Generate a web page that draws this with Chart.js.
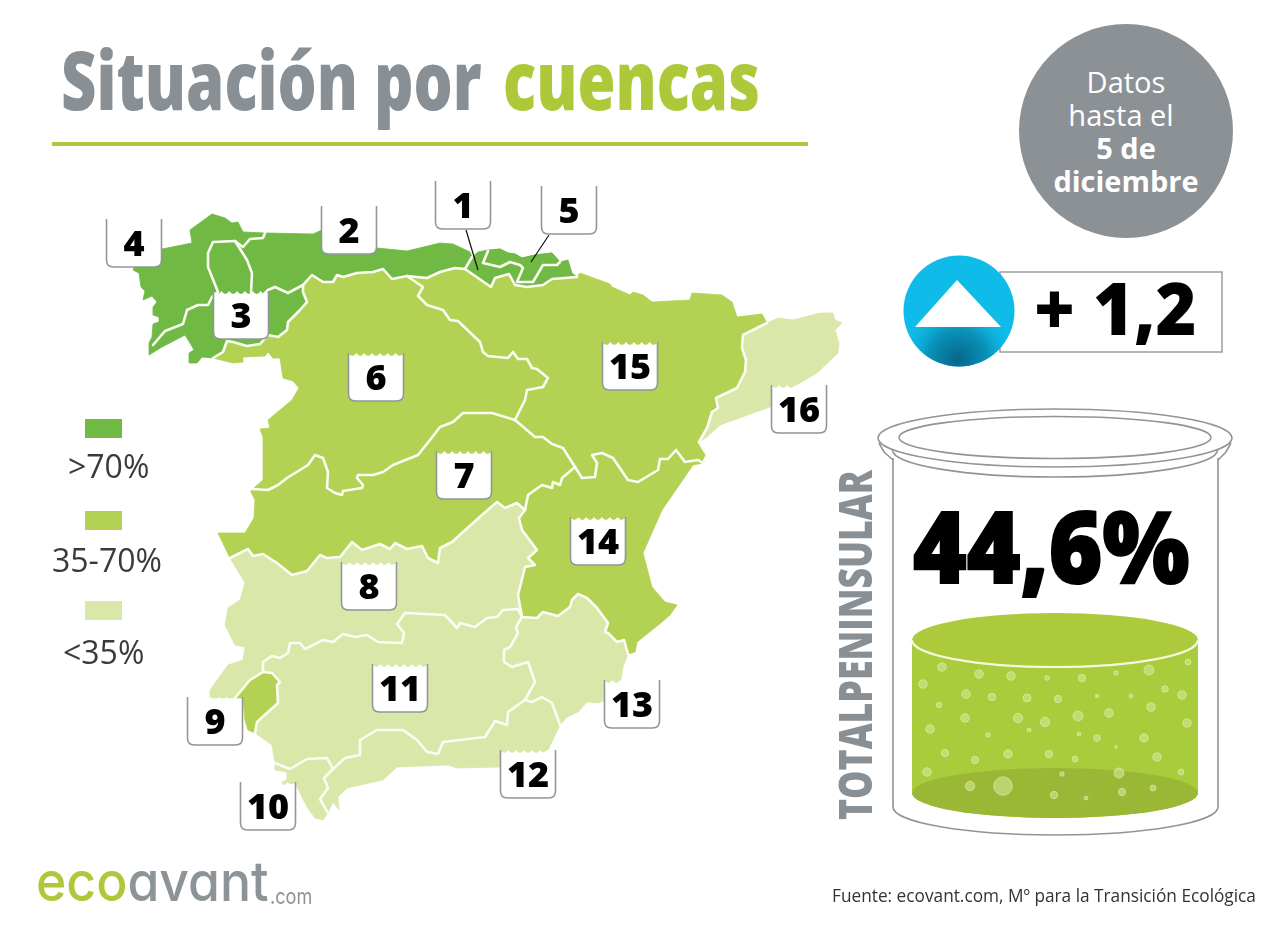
<!DOCTYPE html>
<html lang="es">
<head>
<meta charset="utf-8">
<title>Situación por cuencas</title>
<style>
  html,body{margin:0;padding:0;background:#fff;}
  #page{position:relative;width:1280px;height:933px;overflow:hidden;font-family:"Open Sans",sans-serif;}
  #map{position:absolute;left:0;top:0;width:1280px;height:933px;}
  #page .t{position:absolute;white-space:nowrap;line-height:1;transform-origin:0 0;}
  #title{left:61px;top:38px;font-size:81px;font-weight:800;color:#899095;}
  #title b{color:#adc93a;font-weight:800;margin-left:7px;}
  .green{color:#adc93a;}
  #rule{position:absolute;left:52px;top:142px;width:756px;height:4px;background:#adc93a;}
  #date{position:absolute;left:1019px;top:24px;width:214px;height:214px;border-radius:50%;background:#8c9195;color:#fff;text-align:center;font-size:29px;line-height:33px;}
  #date div{padding-top:41px;}
  #date i{font-style:normal;position:relative;left:-5px;}
  .lg{position:absolute;left:85px;width:37px;height:19px;}
  .lgt{font-size:32px;color:#3a3a3a;}
  #delta{left:1034px;top:271px;font-size:72px;font-weight:800;color:#000;}
  #pct{left:913px;top:494px;font-size:100px;font-weight:800;color:#000;-webkit-text-stroke:2px #000;}
  #total{left:831px;top:820px;font-size:46px;font-weight:800;color:#899095;}
  #src{left:832px;top:886px;font-size:19px;color:#333;}
  #logo{left:36px;top:854px;font-family:Inter,sans-serif;font-feature-settings:"cv11";font-size:55px;font-weight:500;color:#8d9498;}
  #com{left:270px;top:885px;font-family:Inter,sans-serif;font-size:22px;color:#8d9498;}
</style>
</head>
<body>
<div id="page">
  <canvas id="map" width="1280" height="933"></canvas>
  <span class="t" id="title">Situación por <b>cuencas</b></span>
  <div id="rule"></div>
  <div id="date"><div>Datos<br><i>hasta el</i><br><b>5 de<br>diciembre</b></div></div>
  <div class="lg" style="top:419px;background:#6fb944"></div>
  <div class="lg" style="top:511px;background:#b3d152"></div>
  <div class="lg" style="top:601px;background:#d9e7a9"></div>
  <span class="t lgt" style="left:68px;top:450px">&gt;70%</span>
  <span class="t lgt" style="left:52px;top:544px">35-70%</span>
  <span class="t lgt" style="left:63px;top:636px">&lt;35%</span>
  <span class="t" id="delta">+ 1,2</span>
  <span class="t" id="pct">44,6%</span>
  <span class="t" id="total">TOTALPENINSULAR</span>
  <span class="t" id="src">Fuente: ecovant.com, Mº para la Transición Ecológica</span>
  <span class="t" id="logo"><span class="green">eco</span>avant</span>
  <span class="t" id="com">.com</span>
</div>
<script src="https://cdn.jsdelivr.net/npm/chart.js@4/dist/chart.umd.min.js"></script>
<script>
// shared basin borders
const galiciaMino = [[153,345],[165,331],[183,324],[187,310],[198,305],[208,305],[212,297],[218,292],[208,267],[208,253],[213,242],[235,241]];
const galiciaCant = [[235,241],[243,247],[250,239],[263,238],[265,233]];
const minoCant = [[235,241],[247,260],[252,273],[251,293],[258,300],[268,290],[275,287],[288,293],[303,285]];
const minoDuero = [[213,358],[223,352],[227,341],[233,342],[247,346],[260,344],[268,335],[278,337],[287,330],[288,322],[300,310],[307,302],[303,292],[303,285]];
const cantDuero = [[303,285],[312,275],[323,282],[333,282],[337,275],[343,277],[357,273],[373,272],[383,269],[392,279],[407,276]];
const cantEbro = [[407,276],[427,278],[440,272],[455,268],[465,269]];
const cantVasco = [[465,269],[472,257]];
const vascoEbro = [[465,269],[491,287],[495,278],[509,274],[515,285],[527,287],[543,285],[552,279],[577,277]];
const vascoInner = [[488,251],[483,263],[500,267],[510,262],[520,265],[523,268],[517,282],[533,282],[543,265],[557,265],[560,262]];
const dueroEbro = [[407,276],[423,287],[418,296],[427,305],[443,310],[450,320],[458,321],[480,342],[483,352],[488,356],[508,358],[513,352],[518,359],[527,359],[532,368],[537,369],[548,378],[543,387],[527,390],[525,400],[515,420]];
const dueroTajo = [[515,420],[492,413],[477,413],[463,413],[453,422],[440,427],[430,440],[418,455],[393,465],[383,472],[373,475],[358,475],[357,478],[363,485],[362,488],[343,491],[342,495],[335,493],[327,488],[328,472],[323,458],[315,455],[308,465],[287,478],[278,485],[268,490],[252,489]];
const ebroTajo = [[515,420],[535,437],[543,437],[552,444],[563,448],[575,467]];
const ebroCat = [[767,323],[743,335],[742,348],[746,360],[745,372],[737,388],[716,398],[718,408],[712,412],[707,428],[699,442],[707,455],[703,463]];
const ebroJucar = [[575,467],[582,478],[595,477],[597,463],[592,455],[602,453],[613,458],[628,480],[638,482],[658,470],[660,459],[668,459],[676,450],[685,462],[698,460],[703,463]];
const tajoJucar = [[575,467],[562,478],[560,485],[553,482],[552,488],[542,485],[528,495],[525,510]];
const tajoGuadiana = [[230,558],[248,549],[253,556],[263,554],[277,563],[292,575],[307,571],[320,555],[327,558],[340,557],[352,542],[362,550],[380,544],[390,549],[395,543],[407,549],[422,546],[428,558],[438,563],[440,548],[452,542],[463,532],[482,515],[490,508],[497,502],[505,508],[517,503],[525,510]];
const guadianaJucar = [[525,510],[519,518],[522,530],[537,550],[528,558],[535,565],[525,567],[518,595],[522,617]];
const guadalqGuadiana = [[263,672],[263,662],[272,656],[280,658],[288,653],[290,643],[300,643],[305,649],[323,640],[333,642],[343,634],[355,637],[367,635],[378,642],[402,643],[404,633],[397,624],[405,613],[445,615],[457,628],[460,623],[475,627],[487,618],[497,617],[503,610],[518,609],[522,617]];
const jucarSegura = [[522,617],[537,618],[543,612],[558,616],[570,607],[572,600],[578,594],[587,598],[597,608],[608,623],[605,632],[608,633],[617,642],[624,640],[628,654]];
const seguraGuadalq = [[522,617],[516,627],[518,633],[510,647],[504,650],[504,662],[512,667],[528,662],[535,682],[525,700]];
const seguraSur = [[525,700],[532,702],[542,697],[552,703],[560,725]];
const guadalqSur = [[525,700],[508,712],[507,725],[495,721],[485,737],[443,742],[438,754],[427,752],[417,740],[403,730],[377,730],[360,740],[360,755],[345,758],[333,769]];
const guadalqGuadalete = [[333,769],[327,758],[307,759],[290,769],[275,763]];
const surGuadalete = [[333,769],[324,778],[328,788],[320,799],[328,813]];
const tintoGuadiana = [[235,698],[250,680],[263,672]];
const tintoGuadalq = [[263,672],[272,673],[280,682],[277,685],[278,703],[257,722],[255,733]];
const rev = a => [...a].reverse();

// coast stretches
const coastGalicia = [[149,343],[152,337],[153,324],[159,322],[159,317],[153,315],[153,307],[157,302],[152,296],[143,300],[145,291],[141,287],[139,273],[133,270],[140,255],[162,249],[192,243],[190,230],[212,214],[225,218],[232,223],[238,222],[243,232],[265,233]];
const coastMino = [[202,357],[197,363],[189,363],[189,353],[194,350],[190,343],[185,335],[162,347],[149,355],[149,343]];
const coastCant = [[313,234],[322,230],[350,240],[377,248],[407,251],[440,243],[453,244],[470,252],[472,257]];
const coastVasco = [[478,252],[488,250],[500,249],[508,253],[515,254],[522,258],[535,255],[552,253],[560,262],[568,260],[572,273],[577,277]];
const coastEbro = [[577,277],[580,273],[610,284],[612,287],[630,295],[633,292],[643,295],[652,302],[690,300],[692,293],[722,295],[732,302],[737,317],[762,314],[767,323]];
const coastCat = [[778,318],[793,320],[820,313],[833,313],[835,320],[842,323],[835,330],[839,343],[838,353],[817,373],[793,387],[770,407],[720,425],[707,437],[699,442]];
const coastJucar = [[635,652],[637,642],[662,622],[670,615],[677,605],[665,602],[652,587],[643,553],[662,510],[693,465],[703,463]];
const coastSegura = [[567,717],[578,712],[587,702],[598,703],[605,700],[621,680],[623,667],[628,654]];
const coastSur = [[548,750],[500,767],[457,768],[448,765],[397,767],[383,780],[347,788],[338,797],[339,810],[333,802],[328,813]];
const coastGuadalete = [[323,820],[315,818],[307,807],[295,783],[283,785],[282,782],[287,780],[287,772],[275,770],[275,763]];
const coastDuero = [[251,492],[255,487],[263,480],[263,437],[260,429],[270,428],[268,420],[292,400],[299,388],[293,381],[283,378],[280,358],[273,358],[268,352],[265,356],[243,357],[243,362],[233,363],[213,358]];
const coastTajo = [[218,533],[245,533],[254,518],[255,500],[251,492]];
const coastGuadiana = [[210,698],[210,690],[228,665],[243,660],[245,647],[235,645],[225,625],[228,608],[240,600],[245,583]];
const coastTinto = [[248,730],[245,720],[243,698]];

// basin outlines
const basin1 = [...cantVasco,...coastVasco,...rev(vascoEbro)];
const basin2 = [...galiciaCant,...coastCant,...rev(cantVasco.slice(0,1)),...rev(cantEbro),...rev(cantDuero),...rev(minoCant)];
const basin3 = [...galiciaMino,...minoCant,...rev(minoDuero),...coastMino];
const basin4 = [...coastGalicia,...rev(galiciaCant),...rev(galiciaMino)];
const basin5 = [[488,251],[500,249],[508,253],[515,254],[522,258],[535,255],[552,253],[560,262],...rev(vascoInner)];
const basin6 = [...minoDuero,...cantDuero,...dueroEbro,...dueroTajo,...coastDuero];
const basin7 = [...rev(dueroTajo),...ebroTajo,...tajoJucar,...rev(tajoGuadiana),...coastTajo];
const basin8 = [...tajoGuadiana,...guadianaJucar,...rev(guadalqGuadiana),...rev(tintoGuadiana),...coastGuadiana];
const basin9 = [...tintoGuadiana,...tintoGuadalq,...coastTinto];
const basin10 = [...rev(guadalqGuadalete),...surGuadalete,...coastGuadalete];
const basin11 = [...guadalqGuadiana,...seguraGuadalq,...guadalqSur,...guadalqGuadalete,[272,745],...rev(tintoGuadalq)];
const basin12 = [...rev(guadalqSur),...seguraSur,...coastSur,...rev(surGuadalete)];
const basin13 = [...seguraGuadalq,...seguraSur,...coastSegura,...rev(jucarSegura)];
const basin14 = [...tajoJucar,...guadianaJucar,...jucarSegura,...coastJucar,...rev(ebroJucar)];
const basin15 = [...cantEbro,...vascoEbro,...coastEbro,...ebroCat,...rev(ebroJucar),...rev(ebroTajo),...rev(dueroEbro)];
const basin16 = [[767,323],...coastCat,...rev(ebroCat.slice(0,11))];

const basinShapes = [basin1,basin2,basin3,basin4,basin5,basin6,basin7,basin8,basin9,basin10,basin11,basin12,basin13,basin14,basin15,basin16];
const basinClass = [0,0,0,0,0,1,1,2,1,2,2,2,2,1,1,2]; // 0 >70%, 1 35-70%, 2 <35%
const classColors = ["#6fb944","#b3d152","#d9e7a9"];

const borders = [galiciaMino,galiciaCant,minoCant,minoDuero,cantDuero,cantEbro,cantVasco,vascoEbro,vascoInner,dueroEbro,dueroTajo,ebroTajo,ebroCat,ebroJucar,tajoJucar,tajoGuadiana,guadianaJucar,guadalqGuadiana,jucarSegura,seguraGuadalq,seguraSur,guadalqSur,guadalqGuadalete,surGuadalete,tintoGuadiana,tintoGuadalq];
const leaders = [[[466,230],[478,270]],[[549,235],[531,262]]];

// badge labels: number and centre of its box
const badgeLabels = ["1","2","3","4","5","6","7","8","9","10","11","12","13","14","15","16"];
const badgeX = [463,349,241,134,569,376,464,369,215,268,400,528,632,598,630,799];
const badgeY = [205,230,315,243,210,377,475,586,721,806,688,774,704,541,366,409];

// bubbles in the jar
const bubbleX = [942,923,979,1011,1047,1082,1116,1149,1188,1165,1182,1151,1131,1097,1058,1027,992,966,939,965,1018,1045,1078,1109,1187,930,988,1029,1079,1097,1144,1116,945,975,1008,1049,1075,1157,927,1062,1119,1181,970,1003,1054,1086,1122,1153];
const bubbleY = [667,684,674,676,678,678,673,670,662,689,695,707,696,696,699,698,697,694,705,718,718,722,716,713,723,729,735,730,734,738,738,747,753,760,754,754,759,757,772,774,773,772,786,786,795,798,792,788];
const bubbleR = [4.3,4.3,4.3,4.3,2.3,3.7,2.3,5,3,3.3,4.3,4.3,2,1.7,3.7,4,3.7,4.3,2.7,4.3,4.7,4.7,5,4.3,4.3,4.3,2.3,2,2,3.3,4.3,1.3,3.7,3.7,4.3,3.7,3,4.3,4.3,2.3,5,3,4.7,9.3,3.7,2,3.7,3];

const pts = a => a.map(p => ({x:p[0],y:p[1]}));
const lineBase = {type:"line",pointRadius:0,fill:false,tension:0};

const datasets = [
  {type:"bubble",label:"burbujas",data:bubbleX.map((x,i)=>({x,y:bubbleY[i],r:bubbleR[i]})),
   backgroundColor:"rgba(214,230,150,.6)",borderColor:"rgba(236,244,196,.75)",borderWidth:.7},
  {type:"scatter",label:"cuencas",data:badgeX.map((x,i)=>({x,y:badgeY[i]})),pointRadius:0,badges:true},
  ...leaders.map(l=>({...lineBase,data:pts(l),borderColor:"#111",borderWidth:1.2})),
  ...borders.map(b=>({...lineBase,data:pts(b),borderColor:"#fbfdf3",borderWidth:2.6,borderJoinStyle:"round",borderCapStyle:"round"})),
  ...basinShapes.map((s,i)=>({...lineBase,label:"Cuenca "+badgeLabels[i],data:pts(s),showLine:false,
    backgroundColor:classColors[basinClass[i]],area:true}))
];

// fills each basin outline, from the points laid out by the scales
const basinFill = {
  id:"basinFill",
  beforeDatasetDraw(chart,args){
    const ds = chart.data.datasets[args.index];
    if(!ds.area) return;
    const c = chart.ctx, p = args.meta.data;
    c.save();
    c.beginPath();
    p.forEach((e,i)=> i ? c.lineTo(e.x,e.y) : c.moveTo(e.x,e.y));
    c.closePath();
    c.fillStyle = ds.backgroundColor;
    c.strokeStyle = ds.backgroundColor; c.lineWidth = .8;
    c.fill(); c.stroke();
    c.restore();
  }
};

// jar and the arrow go under the datasets
function ell(c,x,y,rx,ry,a,b){ c.beginPath(); c.ellipse(x,y,rx,ry,0,a===undefined?0:a,b===undefined?Math.PI*2:b); }
const decor = {
  id:"decor",
  beforeDatasetsDraw(chart){
    const c = chart.ctx, PI = Math.PI;
    c.save();
    const glass = "#8f9599";
    c.strokeStyle = glass; c.lineWidth = 1.6;
    // walls and base
    c.beginPath(); c.moveTo(893,458); c.lineTo(893,807); c.moveTo(1218,458); c.lineTo(1218,807); c.stroke();
    ell(c,1055.5,807,162.5,28,0,PI); c.stroke();
    // rim
    c.fillStyle="#fff";
    ell(c,1055,438,177,29); c.fill(); c.stroke();
    ell(c,1055,437.5,156,21); c.stroke();
    ell(c,1055,450,162.5,27,0,PI); c.stroke();
    c.beginPath(); c.moveTo(879,443); c.lineTo(884,452); c.lineTo(893,460); c.moveTo(1231,443); c.lineTo(1226,452); c.lineTo(1218,460); c.stroke();
    // liquid
    c.fillStyle="#a9cc3c";
    c.beginPath(); c.moveTo(912,640); c.lineTo(912,793); c.ellipse(1055,793,143,25,0,PI,0,true); c.lineTo(1198,640); c.closePath(); c.fill();
    c.fillStyle="#9ab736"; ell(c,1055,793,143,25); c.fill();
    c.fillStyle="#acca3b"; ell(c,1055,640,143,27); c.fill();
    c.strokeStyle="#f4f8dc"; c.lineWidth=2.2; ell(c,1055,640,143,27,0,PI); c.stroke();
    // delta box and arrow
    c.fillStyle="#fff"; c.strokeStyle="#9a9fa3"; c.lineWidth=1.5;
    c.fillRect(1000,272,222,80); c.strokeRect(1000,272,222,80);
    c.fillStyle="#0fbbe8"; ell(c,959,311,55.5,55.5); c.fill();
    c.save(); ell(c,959,311,55.5,55.5); c.clip();
    const g = c.createRadialGradient(958,360,2,958,360,58);
    g.addColorStop(0,"#07688c"); g.addColorStop(.5,"#0a92b9"); g.addColorStop(1,"rgba(15,187,232,0)");
    c.fillStyle=g; c.fillRect(900,327,120,50);
    c.restore();
    c.fillStyle="#fff"; c.beginPath(); c.moveTo(957,280); c.lineTo(1001,327); c.lineTo(915,327); c.closePath(); c.fill();
    c.restore();
  },
  // number badges stay on top of the map
  afterDatasetsDraw(chart){
    const c = chart.ctx, w = 55, h = 48;
    const {x:sx,y:sy} = chart.scales;
    c.save();
    badgeLabels.forEach((label,i)=>{
      const cx = sx.getPixelForValue(badgeX[i]), cy = sy.getPixelForValue(badgeY[i]);
      const l = cx-w/2, t = cy-h/2, r = cx+w/2, b = cy+h/2, rad = 7;
      c.beginPath();
      c.moveTo(l,t);
      const n = 7;
      for(let k=0;k<n;k++) c.quadraticCurveTo(l+(k+.5)*w/n,t+6,l+(k+1)*w/n,t);
      c.lineTo(r,b-rad); c.quadraticCurveTo(r,b,r-rad,b); c.lineTo(l+rad,b); c.quadraticCurveTo(l,b,l,b-rad);
      c.closePath();
      c.fillStyle="#fff"; c.fill();
      c.beginPath();
      c.moveTo(l,t); c.lineTo(l,b-rad); c.quadraticCurveTo(l,b,l+rad,b); c.lineTo(r-rad,b); c.quadraticCurveTo(r,b,r,b-rad); c.lineTo(r,t);
      c.strokeStyle="#90969a"; c.lineWidth=1.6; c.stroke();
      c.fillStyle="#000"; c.font='800 36px "Open Sans"'; c.textAlign="center"; c.textBaseline="middle";
      c.fillText(label,cx,cy+3);
    });
    c.restore();
  }
};

new Chart(document.getElementById("map"),{
  type:"scatter",
  data:{datasets},
  options:{
    responsive:false,animation:false,events:[],devicePixelRatio:1,
    layout:{padding:0,autoPadding:false},
    plugins:{legend:{display:false},tooltip:{enabled:false}},
    scales:{
      x:{type:"linear",display:false,min:0,max:1280},
      y:{type:"linear",display:false,min:0,max:933,reverse:true}
    }
  },
  plugins:[basinFill,decor]
});

// stretch text to the widths in the picture (no condensed face installed)
function fit(id,width,extra){
  const el = document.getElementById(id);
  const k = width/el.offsetWidth;
  el.style.transform = (extra||"")+" scaleX("+k+")";
}
fit("title",699);
fit("total",350,"rotate(-90deg)");
fit("delta",163);
fit("pct",277);
fit("src",424);
fit("logo",233);
fit("com",42);
</script>
</body>
</html>
